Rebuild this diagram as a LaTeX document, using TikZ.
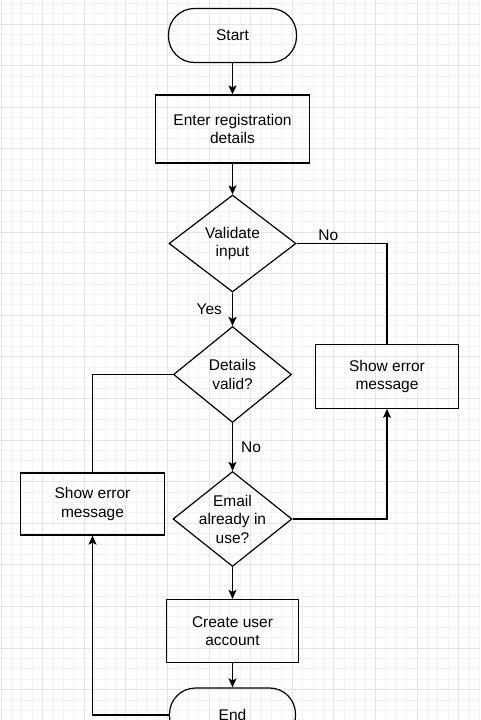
\documentclass[tikz,border=0pt]{standalone}
\usepackage{fontspec}
\setmainfont{Liberation Sans}
\usetikzlibrary{shapes.geometric,arrows.meta,positioning,calc}
\definecolor{gridMinor}{HTML}{F2F2F2}
\definecolor{gridMajor}{HTML}{E4E4E4}
\definecolor{flowInk}{HTML}{000000}
\tikzset{
    flowBase/.style={
        draw=flowInk,
        line width=1.2pt,
        align=center,
        font=\fontsize{15.5}{18.5}\selectfont,
        text=flowInk,
        inner sep=0pt
    },
    % Node variants
    flowTerm/.style={flowBase, rectangle, rounded corners=26pt, minimum width=128pt, minimum height=54pt},
    flowBox/.style={flowBase, rectangle},
    flowDecision/.style={flowBase, diamond, inner sep=-6pt},
    % Connectors
    flowLine/.style={line width=1.2pt, draw=flowInk},
    flowArrow/.style={flowLine, -{Stealth[length=9pt, width=8pt, inset=2pt]}},
    flowLabel/.style={font=\fontsize{15.5}{18.5}\selectfont, text=flowInk, inner sep=2pt}
}

\begin{document}
\begin{tikzpicture}[x=1pt, y=-1pt]
\useasboundingbox (0,0) rectangle (480,720);
\clip (0,0) rectangle (480,720);

% Background grid
\foreach \gx in {0,...,46} {
    \draw[gridMinor, line width=0.8pt] (1+10.4*\gx, 0) -- (1+10.4*\gx, 720);
}
\foreach \gy in {-2,...,69} {
    \draw[gridMinor, line width=0.8pt] (0, 24+10.4*\gy) -- (480, 24+10.4*\gy);
}
\foreach \gx in {0,...,11} {
    \draw[gridMajor, line width=0.8pt] (1+41.6*\gx, 0) -- (1+41.6*\gx, 720);
}
\foreach \gy in {-1,...,17} {
    \draw[gridMajor, line width=0.8pt] (0, 24+41.6*\gy) -- (480, 24+41.6*\gy);
}

% Main column
\node[flowTerm] (start) at (232.5, 35.5) {Start};
\node[flowBox, minimum width=154pt, minimum height=68pt] (enter) at (232.5, 129) {Enter registration\\details};
\node[flowDecision, minimum width=127pt, minimum height=97pt] (validate) at (232.5, 243.5) {Validate\\input};
\node[flowDecision, minimum width=118pt, minimum height=96pt] (details) at (232.5, 374.5) {Details\\valid?};
\node[flowDecision, minimum width=119pt, minimum height=95pt] (email) at (232.5, 519) {Email\\already in\\use?};
\node[flowBox, minimum width=132pt, minimum height=63pt] (create) at (232.5, 631) {Create user\\account};
\node[flowTerm, minimum width=126pt] (end) at (232.5, 715) {End};

% Error branches
\node[flowBox, minimum width=143pt, minimum height=64pt] (errRight) at (387, 376.3) {Show error\\message};
\node[flowBox, minimum width=144pt, minimum height=62pt] (errLeft) at (92.5, 504) {Show error\\message};

% Connectors
\draw[flowArrow] (start) -- (enter);
\draw[flowArrow] (enter) -- (validate);
\draw[flowLine] (validate.east) -| node[flowLabel, pos=0.175, above] {No} (errRight.north);
\draw[flowArrow] (validate) -- node[flowLabel, midway, left=8pt] {Yes} (details);
\draw[flowLine] (details.west) -| (errLeft.north);
\draw[flowArrow] (details) -- node[flowLabel, midway, right=6pt] {No} (email);
\draw[flowArrow] (email.east) -| (errRight.south);
\draw[flowArrow] (email) -- (create);
\draw[flowArrow] (create) -- (end);
\draw[flowArrow] (end.west) -| (errLeft.south);
\end{tikzpicture}
\end{document}
